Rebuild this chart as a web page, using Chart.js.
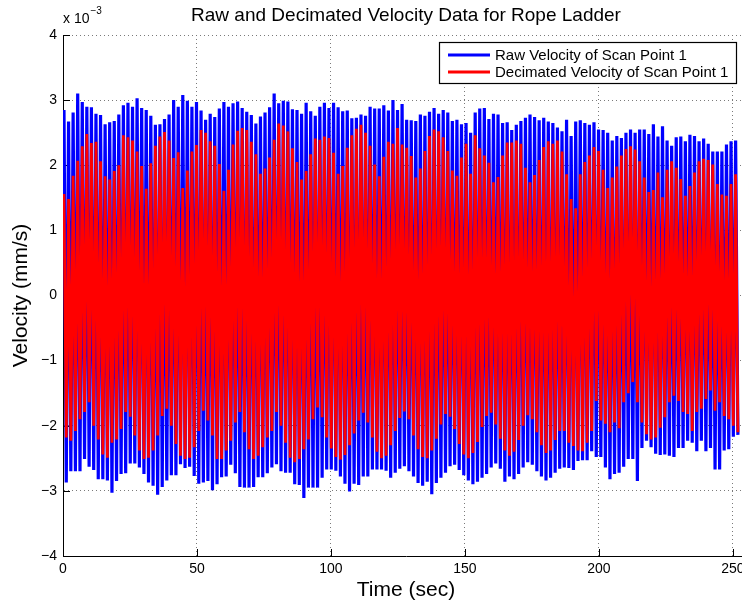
<!DOCTYPE html>
<html>
<head>
<meta charset="utf-8">
<title>Raw and Decimated Velocity Data for Rope Ladder</title>
<script src="https://cdn.jsdelivr.net/npm/chart.js@4.4.1/dist/chart.umd.min.js"></script>
<style>
	html, body { margin: 0; padding: 0; background: #fff; overflow: hidden; }
	#wrap { position: absolute; left: 0; top: 0; }
</style>
</head>
<body>
<div id="wrap"><canvas id="chart" width="752" height="602"></canvas></div>
<script>
	// velocity in units of 1e-3 mm/s, one high and one low value per oscillation cycle
	var rawHigh = [
		2.85,2.67,2.81,3.10,2.97,2.90,2.89,2.79,2.77,2.63,
		2.66,2.68,2.78,2.92,2.96,2.90,3.03,2.88,2.85,2.76,
		2.62,2.63,2.71,2.78,3.00,2.90,3.08,2.99,2.90,2.97,
		2.84,2.70,2.79,2.74,2.87,2.97,2.90,2.95,2.98,2.88,
		2.82,2.77,2.64,2.75,2.81,2.89,3.10,2.95,2.99,2.98,
		2.86,2.85,2.79,2.96,2.83,2.76,2.90,2.96,2.88,2.96,
		2.89,2.83,2.84,2.72,2.73,2.78,2.76,2.90,2.87,2.87,
		2.92,2.84,3.00,2.85,2.94,2.70,2.69,2.68,2.78,2.76,
		2.82,2.88,2.79,2.85,2.81,2.68,2.70,2.63,2.65,2.50,
		2.81,2.87,2.88,2.71,2.79,2.78,2.65,2.66,2.54,2.62,
		2.68,2.73,2.78,2.74,2.69,2.73,2.67,2.65,2.58,2.52,
		2.70,2.45,2.67,2.69,2.65,2.62,2.66,2.55,2.54,2.50,
		2.38,2.45,2.42,2.50,2.55,2.50,2.55,2.55,2.48,2.63,
		2.44,2.60,2.38,2.30,2.43,2.44,2.37,2.47,2.45,2.37,
		2.41,2.33,2.21,2.21,2.21,2.32,2.37,2.38
	];
	var rawLow = [
		-2.87,-2.70,-2.70,-2.70,-2.51,-2.63,-2.68,-2.82,-2.82,-2.84,
		-3.03,-2.85,-2.74,-2.73,-2.58,-2.58,-2.64,-2.74,-2.87,-2.92,
		-3.06,-2.94,-2.84,-2.76,-2.76,-2.59,-2.65,-2.63,-2.77,-2.89,
		-2.87,-2.85,-2.99,-2.90,-2.79,-2.78,-2.60,-2.73,-2.94,-2.95,
		-2.95,-2.94,-2.79,-2.79,-2.73,-2.64,-2.59,-2.70,-2.72,-2.72,
		-2.90,-2.91,-3.11,-2.95,-2.95,-2.95,-2.80,-2.67,-2.67,-2.69,
		-2.78,-2.89,-3.01,-2.89,-2.91,-2.78,-2.78,-2.67,-2.67,-2.67,
		-2.69,-2.80,-2.72,-2.66,-2.62,-2.70,-2.78,-2.88,-2.92,-2.86,
		-3.05,-2.88,-2.80,-2.72,-2.62,-2.60,-2.68,-2.76,-2.84,-2.90,
		-2.86,-2.80,-2.74,-2.64,-2.58,-2.66,-2.86,-2.78,-2.82,-2.74,
		-2.64,-2.56,-2.60,-2.70,-2.78,-2.84,-2.80,-2.72,-2.66,-2.64,
		-2.65,-2.68,-2.54,-2.53,-2.53,-2.39,-2.48,-2.48,-2.64,-2.82,
		-2.74,-2.72,-2.63,-2.51,-2.51,-2.85,-2.34,-2.23,-2.33,-2.43,
		-2.45,-2.44,-2.46,-2.48,-2.34,-2.34,-2.23,-2.26,-2.39,-2.23,
		-2.39,-2.34,-2.67,-2.67,-2.38,-2.36,-2.17,-2.14
	];
	var decHigh = [
		1.56,1.48,1.84,2.07,2.29,2.48,2.34,2.36,2.06,1.83,
		1.78,1.91,2.00,2.46,2.43,2.38,2.21,1.99,1.64,2.03,
		2.30,2.44,2.51,2.38,2.11,2.20,1.65,1.92,2.21,2.31,
		2.54,2.50,2.37,2.30,2.02,1.61,1.93,2.32,2.53,2.57,
		2.54,2.36,2.17,1.87,1.95,2.12,2.39,2.64,2.61,2.52,
		2.26,2.05,1.78,1.91,2.17,2.41,2.39,2.44,2.42,2.19,
		1.87,1.99,2.27,2.46,2.56,2.62,2.50,2.30,2.01,1.83,
		2.13,2.36,2.33,2.57,2.32,2.27,2.14,1.81,1.95,2.22,
		2.45,2.55,2.52,2.43,2.22,1.92,1.84,2.12,2.33,1.87,
		2.46,2.26,2.15,2.04,1.74,1.82,2.15,2.35,2.35,2.38,
		2.33,1.96,1.74,1.85,2.08,2.28,2.37,2.33,2.38,2.21,
		1.86,1.48,1.34,1.86,2.05,2.15,2.28,2.22,1.93,1.65,
		1.81,1.98,2.15,2.25,2.29,2.24,2.06,1.81,1.59,1.62,
		1.89,1.51,1.93,2.06,1.96,1.79,1.53,1.68,1.89,2.06,
		2.10,2.08,2.01,1.71,1.55,1.53,1.71,1.86
	];
	var decLow = [
		-2.18,-2.23,-2.08,-1.90,-1.79,-1.64,-2.00,-2.21,-2.44,-2.49,
		-2.26,-2.21,-2.05,-1.79,-1.86,-2.15,-2.38,-2.51,-2.49,-2.38,
		-2.15,-1.85,-1.74,-2.00,-2.28,-2.46,-2.51,-2.49,-2.33,-2.08,
		-1.77,-1.92,-2.15,-2.51,-2.51,-2.38,-2.23,-1.95,-1.79,-2.10,
		-2.36,-2.51,-2.46,-2.33,-2.18,-2.08,-1.79,-2.00,-2.26,-2.49,
		-2.56,-2.51,-2.36,-2.21,-1.90,-1.72,-1.87,-2.18,-2.35,-2.48,
		-2.52,-2.45,-2.30,-2.12,-1.92,-1.80,-1.95,-2.18,-2.40,-2.50,
		-2.46,-2.30,-2.08,-1.88,-1.78,-1.90,-2.15,-2.36,-2.48,-2.50,
		-2.38,-2.20,-1.98,-1.82,-1.86,-2.05,-2.28,-2.44,-2.50,-2.42,
		-2.25,-2.02,-1.85,-1.80,-1.98,-2.20,-2.38,-2.46,-2.40,-2.22,
		-2.00,-1.84,-1.90,-2.10,-2.30,-2.42,-2.38,-2.22,-2.08,-2.08,
		-2.26,-2.31,-2.38,-2.39,-2.26,-2.08,-1.62,-1.92,-1.97,-2.10,
		-1.95,-2.04,-1.64,-1.50,-1.33,-1.64,-1.95,-2.13,-2.21,-2.18,
		-2.03,-1.87,-1.64,-1.54,-1.62,-1.79,-1.82,-2.08,-1.79,-1.74,
		-1.59,-1.46,-1.77,-1.64,-1.85,-1.90,-2.00,-2.10
	];
	var firstPeak = 0.37;   // sec
	var cycle = 1.705;      // sec per oscillation
	var timeTicks = [0, 50, 100, 150, 200, 250];
	var velTicks = [-4, -3, -2, -1, 0, 1, 2, 3, 4];

	var fam = '"Liberation Sans", Arial, Helvetica, sans-serif';

	// high/low per cycle -> up/down trace
	function trace(high, low) {
		var pts = [];
		for (var i = 0; i < high.length; i++) {
			var t = firstPeak + i * cycle;
			pts.push({x: t, y: high[i]});
			pts.push({x: t + cycle / 2, y: low[i]});
		}
		return pts;
	}

	var extras = {
		id: 'extras',
		beforeDatasetsDraw: function(chart) {
			var c = chart.ctx, a = chart.chartArea;
			var xs = chart.scales.x, ys = chart.scales.y;
			c.save();
			c.strokeStyle = '#000';
			c.lineWidth = 1;
			c.beginPath();
			timeTicks.forEach(function(v) {
				var px = Math.round(xs.getPixelForValue(v)) + 0.5;
				c.moveTo(px, a.bottom);
				c.lineTo(px, a.bottom - 7);
			});
			velTicks.forEach(function(v) {
				var py = Math.round(ys.getPixelForValue(v)) + 0.5;
				c.moveTo(a.left, py);
				c.lineTo(a.left + 7, py);
			});
			c.stroke();
			c.restore();
		},
		afterDraw: function(chart) {
			var c = chart.ctx, a = chart.chartArea;
			c.save();
			c.fillStyle = '#000';
			// title
			c.font = '19px ' + fam;
			c.textAlign = 'center';
			c.textBaseline = 'middle';
			c.fillText('Raw and Decimated Velocity Data for Rope Ladder', (a.left + a.right) / 2, 16);
			// exponent label
			c.textAlign = 'left';
			c.textBaseline = 'alphabetic';
			c.font = '14px ' + fam;
			c.fillText('x 10', a.left, 23);
			var w = c.measureText('x 10').width;
			c.font = '10px ' + fam;
			c.fillText('\u22123', a.left + w + 1, 14);
			// legend
			var bx = 439.5, by = 42.5, bw = 297, bh = 41;
			c.fillStyle = '#fff';
			c.fillRect(bx, by, bw, bh);
			c.strokeStyle = '#000';
			c.lineWidth = 1.2;
			c.strokeRect(bx, by, bw, bh);
			var rows = [55, 72];
			chart.data.datasets.forEach(function(ds, i) {
				c.strokeStyle = ds.borderColor;
				c.lineWidth = 3;
				c.beginPath();
				c.moveTo(448, rows[i]);
				c.lineTo(490, rows[i]);
				c.stroke();
				c.fillStyle = '#000';
				c.font = '15px ' + fam;
				c.textBaseline = 'middle';
				c.fillText(ds.label, 495, rows[i] + 1);
			});
			c.restore();
		}
	};

	var chart = new Chart(document.getElementById('chart').getContext('2d'), {
		type: 'line',
		data: {
			datasets: [{
				label: 'Raw Velocity of Scan Point 1',
				data: trace(rawHigh, rawLow),
				borderColor: '#0000ff',
				borderWidth: 3.2,
				order: 2
			}, {
				label: 'Decimated Velocity of Scan Point 1',
				data: trace(decHigh, decLow),
				borderColor: '#ff0000',
				borderWidth: 2.8,
				order: 1
			}]
		},
		options: {
			responsive: false,
			animation: false,
			events: [],
			layout: { padding: { top: 35, right: 3, left: 0, bottom: 0 } },
			elements: {
				point: { radius: 0 },
				line: { tension: 0, fill: false }
			},
			plugins: {
				legend: { display: false },
				tooltip: { enabled: false },
				title: { display: false }
			},
			scales: {
				x: {
					type: 'linear',
					min: 0,
					max: 256,
					afterBuildTicks: function(s) {
						s.ticks = timeTicks.map(function(v) { return {value: v}; });
					},
					afterFit: function(s) { s.height = 46; },
					grid: { color: '#7a7a7a', drawTicks: false, lineWidth: 1 },
					border: { display: true, color: '#000', width: 1, dash: [1, 3] },
					ticks: { color: '#000', padding: 5, font: { family: fam, size: 14 }, maxRotation: 0 },
					title: { display: true, text: 'Time (sec)', color: '#000', font: { family: fam, size: 21, lineHeight: 1 }, padding: { top: 0, bottom: 1 } }
				},
				y: {
					min: -4,
					max: 4,
					afterBuildTicks: function(s) {
						s.ticks = velTicks.map(function(v) { return {value: v}; });
					},
					afterFit: function(s) { s.width = 63; },
					grid: { color: '#7a7a7a', drawTicks: false, lineWidth: 1 },
					border: { display: true, color: '#000', width: 1, dash: [1, 3] },
					ticks: {
						color: '#000',
						padding: 6,
						font: { family: fam, size: 14 },
						callback: function(v) { return String(v).replace('-', '\u2212'); }
					},
					title: { display: true, text: 'Velocity (mm/s)', color: '#000', font: { family: fam, size: 21, lineHeight: 1 }, padding: { top: 11, bottom: 0 } }
				}
			}
		},
		plugins: [extras]
	});
</script>
</body>
</html>
